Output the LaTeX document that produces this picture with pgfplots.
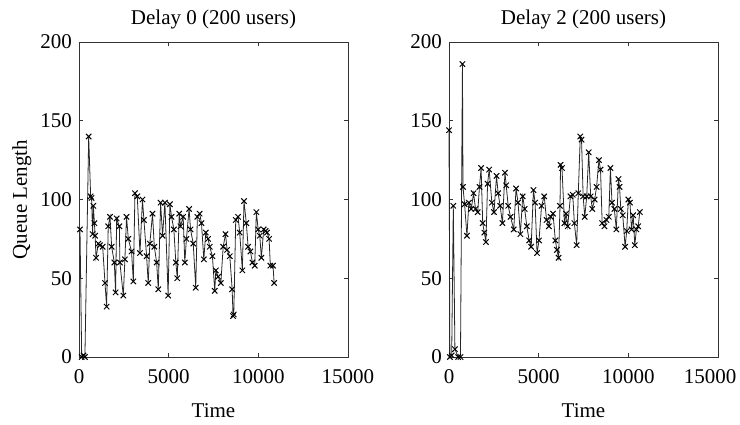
\documentclass[border=0pt]{standalone}
\usepackage{pgfplots}
\pgfplotsset{compat=1.18}
\usepackage{fontspec}
\setmainfont{Liberation Serif}
\begin{document}
\fontsize{21}{24}\selectfont
\begin{tikzpicture}
\path[use as bounding box] (0,0) rectangle (740pt,-424pt);
\pgfplotsset{
  myax/.style={
    scale only axis,
    width=269pt, height=315pt,
    xmin=0, xmax=15000, ymin=0, ymax=200,
    xtick={0,5000,10000,15000},
    ytick={0,50,100,150,200},
    scaled x ticks=false,
    /pgf/number format/1000 sep={},
    /pgf/number format/assume math mode=true,
    tick align=inside,
    tick pos=both,
    major tick length=4pt,
    axis line style={black!80, line width=0.9pt},
    every tick/.style={black!80, line width=0.7pt},
    tick label style={font=\fontsize{21}{24}\selectfont},
    label style={font=\fontsize{21}{24}\selectfont},
    title style={font=\fontsize{21}{24}\selectfont, at={(axis description cs:0.5,1)}, anchor=base, yshift=12pt},
    xticklabel style={yshift=-5pt},
    xlabel style={at={(axis description cs:0.5,-0.171)}, anchor=center},
    ylabel style={at={(axis description cs:-0.212,0.5)}, anchor=center, rotate=0},
    clip=false,
  },
  myplot/.style={black!85, line width=0.8pt, mark=x, mark size=3.8pt, mark options={black, line width=1pt}},
}
\begin{axis}[myax, at={(79pt,-357pt)}, anchor=south west,
  title={Delay 0 (200 users)}, xlabel={Time}, ylabel={Queue Length}]
\addplot[myplot] coordinates {
(56,81)(150,0)(250,1)(330,0)(540,140)(650,102)(700,101)(760,78)(800,96)(860,85)(900,77)(950,63)(1080,72)(1170,71)(1320,70)(1450,47)(1540,32)(1630,83)(1730,89)(1820,70)(1970,60)(2040,41)(2100,88)(2250,83)(2280,60)(2470,39)(2560,62)(2650,89)(2750,75)(2930,67)(3030,48)(3120,104)(3250,102)(3400,66)(3540,100)(3620,87)(3770,64)(3860,47)(3950,72)(4100,91)(4200,70)(4330,60)(4420,43)(4550,98)(4660,77)(4790,98)(4970,39)(5070,97)(5160,89)(5290,81)(5400,60)(5480,50)(5590,91)(5660,83)(5810,89)(5900,60)(5990,75)(6140,94)(6220,81)(6370,72)(6510,44)(6600,89)(6730,91)(6830,85)(6960,62)(7070,79)(7200,75)(7290,70)(7440,64)(7570,42)(7630,55)(7760,51)(7910,47)(8040,70)(8170,78)(8260,68)(8410,64)(8540,43)(8590,26)(8630,27)(8740,87)(8870,89)(8960,79)(9110,55)(9200,99)(9330,85)(9430,70)(9560,67)(9670,60)(9800,58)(9890,92)(9990,81)(10080,77)(10170,63)(10300,81)(10410,80)(10490,79)(10600,75)(10670,58)(10820,58)(10880,47)
};
\end{axis}
\begin{axis}[myax, at={(449pt,-357pt)}, anchor=south west,
  xtick={0,5000,10000}, extra x ticks={15000},
  extra x tick style={xticklabel style={xshift=-8pt}},
  title={Delay 2 (200 users)}, xlabel={Time}]
\addplot[myplot] coordinates {
(0,144)(50,0)(150,1)(240,96)(330,5)(510,0)(640,0)(750,186)(780,108)(870,97)(1000,77)(1110,98)(1240,94)(1370,104)(1480,94)(1600,92)(1700,108)(1790,120)(1880,85)(1970,79)(2060,73)(2150,110)(2240,119)(2390,98)(2510,92)(2650,115)(2740,104)(2850,96)(2980,85)(3120,117)(3190,109)(3300,96)(3430,89)(3610,81)(3740,107)(3850,98)(3980,78)(4110,102)(4220,94)(4340,83)(4470,74)(4580,70)(4710,106)(4800,98)(4910,66)(5020,74)(5160,96)(5310,102)(5440,87)(5570,83)(5670,89)(5800,91)(5930,74)(6020,68)(6110,63)(6190,96)(6220,122)(6300,120)(6440,85)(6530,91)(6620,83)(6770,102)(6900,103)(6990,85)(7120,71)(7210,104)(7320,140)(7390,138)(7480,102)(7570,89)(7680,102)(7790,130)(7900,102)(7990,94)(8120,100)(8230,108)(8360,125)(8450,119)(8540,85)(8670,83)(8780,87)(8910,89)(9000,120)(9090,98)(9220,94)(9330,81)(9450,113)(9510,108)(9580,94)(9690,90)(9820,70)(9910,80)(10000,100)(10090,98)(10180,81)(10270,90)(10360,71)(10450,81)(10550,83)(10640,92)
};
\end{axis}
\end{tikzpicture}
\end{document}
